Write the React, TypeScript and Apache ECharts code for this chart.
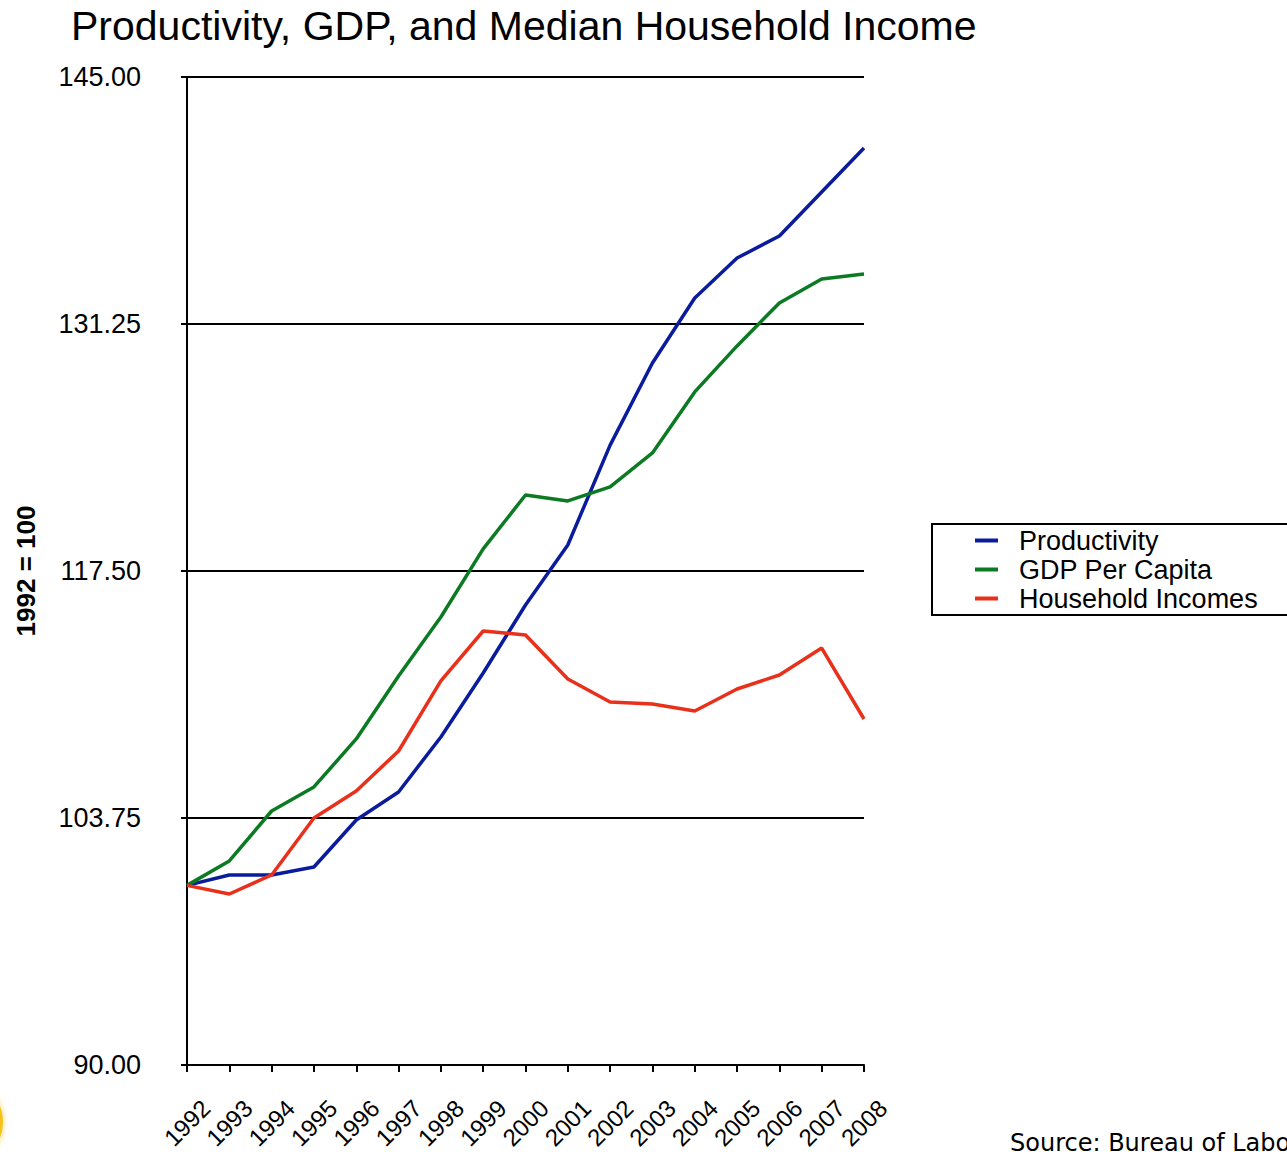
import React, { useEffect, useRef } from "react";
import * as echarts from "echarts";

const years = ["1992","1993","1994","1995","1996","1997","1998","1999","2000","2001","2002","2003","2004","2005","2006","2007","2008"];
const productivity = [100, 100.58, 100.58, 101.02, 103.64, 105.2, 108.26, 111.82, 115.61, 118.95, 124.51, 129.08, 132.7, 134.92, 136.15, 138.6, 141.05];
const gdpPerCapita = [100, 101.36, 104.14, 105.48, 108.15, 111.66, 114.94, 118.73, 121.73, 121.4, 122.18, 124.07, 127.47, 130.03, 132.42, 133.76, 134.03];
const householdIncomes = [100, 99.52, 100.58, 103.75, 105.25, 107.48, 111.38, 114.16, 113.94, 111.49, 110.21, 110.1, 109.71, 110.93, 111.71, 113.21, 109.26];
const seriesNames = ["Productivity", "GDP Per Capita", "Household Incomes"];
const colors = ["#0a1c9c", "#0b7a22", "#e8301a"];

export default function App() {
  const ref = useRef<HTMLDivElement>(null);
  useEffect(() => {
    if (!ref.current) return;
    const chart = echarts.init(ref.current, null, { renderer: "svg" });
    const font = "Liberation Sans, Arial, sans-serif";
    chart.setOption({
      animation: false,
      textStyle: { fontFamily: font, color: "#000" },
      title: {
        text: "Productivity, GDP, and Median Household Income",
        left: 66,
        top: 0,
        textStyle: { fontSize: 41, fontWeight: "normal", color: "#000", fontFamily: font },
      },
      legend: {
        orient: "vertical",
        left: 932,
        top: 524,
        padding: [2, 60, 2, 43],
        borderColor: "#000",
        borderWidth: 2,
        itemGap: 0,
        itemWidth: 23,
        itemHeight: 4,
        icon: "rect",
        data: seriesNames,
        textStyle: { fontSize: 27, lineHeight: 29, color: "#000", fontFamily: font, padding: [0, 0, 0, 16] },
      },
      grid: { left: 187, right: 423, top: 77, bottom: 87, containLabel: false, outerBoundsMode: "none" },
      xAxis: {
        type: "category",
        data: years,
        boundaryGap: false,
        axisLine: { lineStyle: { color: "#000", width: 2 } },
        axisTick: { show: true, length: 7, lineStyle: { color: "#000", width: 2 }, alignWithLabel: true },
        axisLabel: {
          rotate: 45,
          align: "center",
          verticalAlign: "middle",
          margin: 58,
          fontSize: 24,
          color: "#000",
          fontFamily: font,
          interval: 0,
          hideOverlap: false,
        },
        splitLine: { show: false },
      },
      yAxis: {
        type: "value",
        min: 90,
        max: 145,
        interval: 13.75,
        name: "1992 = 100",
        nameLocation: "middle",
        nameGap: 148,
        nameRotate: 90,
        nameTextStyle: { fontSize: 26, fontWeight: "bold", color: "#000", fontFamily: font },
        axisLine: { show: true, lineStyle: { color: "#000", width: 2 } },
        axisTick: { show: true, length: 6, lineStyle: { color: "#000", width: 2 } },
        axisLabel: {
          formatter: (v: number) => v.toFixed(2),
          fontSize: 27,
          color: "#000",
          fontFamily: font,
          margin: 46,
        },
        splitLine: { show: true, lineStyle: { color: "#000", width: 2 } },
      },
      graphic: [
        {
          type: "circle",
          shape: { cx: -40, cy: 1122, r: 43 },
          style: { fill: "#f6c21a", shadowBlur: 6, shadowColor: "rgba(246,194,26,0.6)" },
        },
        {
          type: "text",
          left: 1010,
          top: 1131,
          style: { text: "Source: Bureau of Labor Statistics", fontSize: 24, fontFamily: "DejaVu Sans, sans-serif", fill: "#000" },
        },
      ],
      series: [
        { name: seriesNames[0], type: "line", data: productivity, symbol: "none", lineStyle: { color: colors[0], width: 3.5 }, itemStyle: { color: colors[0] } },
        { name: seriesNames[1], type: "line", data: gdpPerCapita, symbol: "none", lineStyle: { color: colors[1], width: 3.5 }, itemStyle: { color: colors[1] } },
        { name: seriesNames[2], type: "line", data: householdIncomes, symbol: "none", lineStyle: { color: colors[2], width: 3.5 }, itemStyle: { color: colors[2] } },
      ],
    });
    return () => chart.dispose();
  }, []);
  return <div ref={ref} style={{ position: "absolute", left: 0, top: 0, width: 1287, height: 1152 }} />;
}
